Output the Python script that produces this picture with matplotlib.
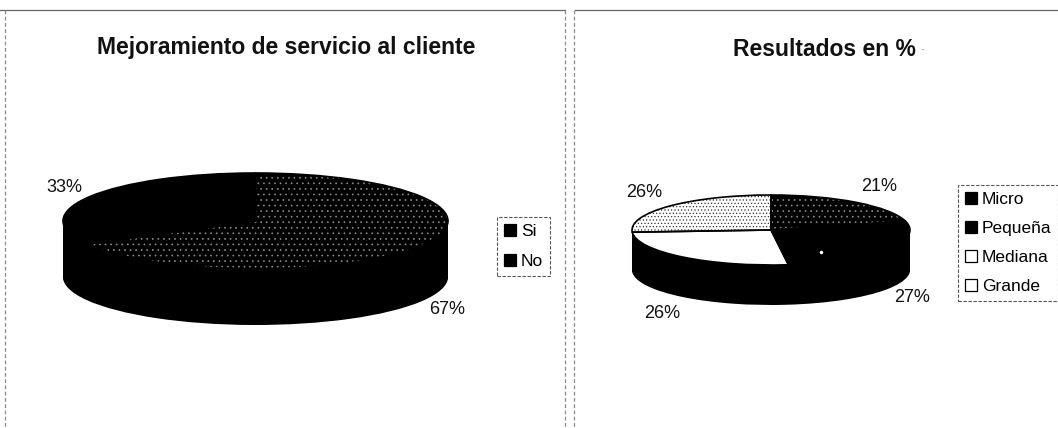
import numpy as np
import matplotlib
matplotlib.use("Agg")
import matplotlib.pyplot as plt
from matplotlib.patches import Patch

plt.rcParams['font.family'] = ['Liberation Sans', 'DejaVu Sans']
plt.rcParams['hatch.linewidth'] = 0.5

W, H = 1058, 428

left_title = "Mejoramiento de servicio al cliente"
left_categories = ["Si", "No"]
left_values = [67, 33]
left_labels = ["67%", "33%"]

right_title = "Resultados en %"
right_categories = ["Micro", "Pequeña", "Mediana", "Grande"]
right_values = [21, 27, 26, 26]
right_labels = ["21%", "27%", "26%", "26%"]

left_faces = ["black", "black"]
left_hatch_colors = ["#8a8a8a", "black"]
left_hatches = ["...", None]
right_faces = ["black", "black", "white", "white"]
right_hatch_colors = ["#8a8a8a", "black", "white", "#333333"]
right_hatches = ["...", None, None, "....."]

fig = plt.figure(figsize=(W / 100, H / 100), dpi=100, facecolor="white")


def px_axes(x0, y0, x1, y1):
    return fig.add_axes([x0 / W, 1 - y1 / H, (x1 - x0) / W, (y1 - y0) / H])


def pie3d(values, faces, hatches, hatch_colors, x0, x1, top, ry, depth):
    ax = px_axes(x0, top, x1, top + 2 * ry + depth)
    unit = 1 / ry
    # side wall: stacked black pies from the bottom upwards
    for d in np.arange(depth, 0, -1):
        ax.pie(values, colors=["black"] * len(values), center=(0, -d * unit),
               startangle=90, counterclock=False, radius=1,
               wedgeprops=dict(linewidth=0, clip_on=False))
    # top face
    wedges, _ = ax.pie(values, colors=faces, startangle=90, counterclock=False,
                       radius=1, wedgeprops=dict(linewidth=0, clip_on=False))
    for w, h, c in zip(wedges, hatches, hatch_colors):
        if h:
            w.set_hatch(h)
            w.set_edgecolor(c)
    # outline of the face
    ax.pie(values, colors=["none"] * len(values), startangle=90,
           counterclock=False, radius=1,
           wedgeprops=dict(linewidth=1.2, edgecolor="black",
                           facecolor="none", clip_on=False))
    ax.set_aspect("auto")
    ax.set_xlim(-1, 1)
    ax.set_ylim(-1 - depth * unit, 1)
    ax.axis("off")
    return ax


pie3d(left_values, left_faces, left_hatches, left_hatch_colors, 63, 448, 173, 48, 56)
pie3d(right_values, right_faces, right_hatches, right_hatch_colors, 632, 910, 195, 35, 40)

ov = fig.add_axes([0, 0, 1, 1], zorder=5)
ov.set_xlim(0, W)
ov.set_ylim(H, 0)
ov.axis("off")
ov.patch.set_alpha(0)

# panel borders
border = dict(color="#666666", lw=0.9)
ov.plot([0, 565], [10, 10], **border)
ov.plot([575, W], [10, 10], **border)
dash = dict(color="#888888", lw=0.9, ls=(0, (3, 2)))
ov.plot([5, 5], [10, H], **dash)
ov.plot([565, 565], [10, H], **dash)
ov.plot([574, 574], [10, H], **dash)

ov.text(286, 54, left_title, ha="center", va="baseline", fontsize=16.5,
        fontweight="bold", color="#111111")
ov.text(824, 56, right_title, ha="center", va="baseline", fontsize=16.5,
        fontweight="bold", color="#111111")
ov.text(923, 53, "·", ha="center", va="baseline", fontsize=9, color="#555555")
ov.plot([821], [252], marker="o", ms=2.5, color="white", mew=0)

for (x, y), t in zip([(447, 310), (64, 187)], left_labels):
    ov.text(x, y, t, ha="center", va="center", fontsize=13, color="#111111")
for (x, y), t in zip([(879, 186), (912, 297), (662, 313), (644, 192)], right_labels):
    ov.text(x, y, t, ha="center", va="center", fontsize=13, color="#111111")


def legend(cats, faces, x, y, fs, spacing):
    hs = [Patch(facecolor=f, edgecolor="black", linewidth=0.9, label=c)
          for c, f in zip(cats, faces)]
    lg = ov.legend(handles=hs, loc="upper left",
                   bbox_to_anchor=(x / W, 1 - y / H), bbox_transform=fig.transFigure,
                   borderaxespad=0, fontsize=fs, handlelength=0.69, handleheight=0.69,
                   handletextpad=0.28, labelspacing=spacing, borderpad=0.4,
                   fancybox=False, framealpha=1, edgecolor="#555555")
    lg.get_frame().set_linewidth(0.8)
    lg.get_frame().set_linestyle((0, (3, 1.5)))
    return lg


l1 = legend(left_categories, left_faces, 497, 217, 12.5, 0.85)
ov.add_artist(l1)
legend(right_categories, right_faces, 958, 185, 12.5, 0.8)

fig.savefig("out.png", dpi=100)
